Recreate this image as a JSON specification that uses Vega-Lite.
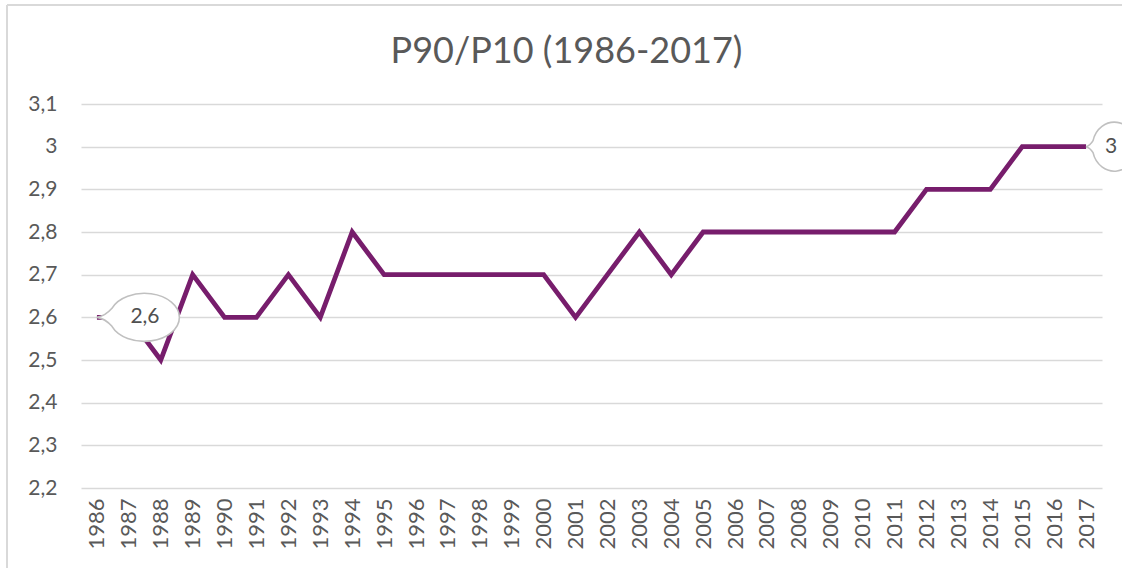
{
  "$schema": "https://vega.github.io/schema/vega-lite/v6.json",
  "autosize": {"type": "none"},
  "padding": {"left": 7, "top": 5, "right": 0, "bottom": 0},
  "width": 1115,
  "height": 563,
  "background": "white",
  "config": {
    "font": "Lato",
    "view": {"stroke": "#d9d9d9", "strokeWidth": 2, "strokeDash": [1115, 1678, 563, 0]},
    "title": {"font": "Lato", "fontSize": 36, "fontWeight": "normal", "color": "#595959"}
  },
  "title": {"text": "P90/P10 (1986-2017)", "anchor": "middle", "dx": 2, "offset": -94, "baseline": "alphabetic"},
  "data": {
    "values": [
      {"year": "1986", "value": 2.6, "label": "2,6"},
      {"year": "1987", "value": 2.6, "label": null},
      {"year": "1988", "value": 2.5, "label": null},
      {"year": "1989", "value": 2.7, "label": null},
      {"year": "1990", "value": 2.6, "label": null},
      {"year": "1991", "value": 2.6, "label": null},
      {"year": "1992", "value": 2.7, "label": null},
      {"year": "1993", "value": 2.6, "label": null},
      {"year": "1994", "value": 2.8, "label": null},
      {"year": "1995", "value": 2.7, "label": null},
      {"year": "1996", "value": 2.7, "label": null},
      {"year": "1997", "value": 2.7, "label": null},
      {"year": "1998", "value": 2.7, "label": null},
      {"year": "1999", "value": 2.7, "label": null},
      {"year": "2000", "value": 2.7, "label": null},
      {"year": "2001", "value": 2.6, "label": null},
      {"year": "2002", "value": 2.7, "label": null},
      {"year": "2003", "value": 2.8, "label": null},
      {"year": "2004", "value": 2.7, "label": null},
      {"year": "2005", "value": 2.8, "label": null},
      {"year": "2006", "value": 2.8, "label": null},
      {"year": "2007", "value": 2.8, "label": null},
      {"year": "2008", "value": 2.8, "label": null},
      {"year": "2009", "value": 2.8, "label": null},
      {"year": "2010", "value": 2.8, "label": null},
      {"year": "2011", "value": 2.8, "label": null},
      {"year": "2012", "value": 2.9, "label": null},
      {"year": "2013", "value": 2.9, "label": null},
      {"year": "2014", "value": 2.9, "label": null},
      {"year": "2015", "value": 3.0, "label": null},
      {"year": "2016", "value": 3.0, "label": null},
      {"year": "2017", "value": 3.0, "label": "3"}
    ]
  },
  "encoding": {
    "x": {
      "field": "year", "type": "nominal", "sort": null,
      "scale": {"type": "point", "padding": 0.5, "range": [74, 1095]},
      "axis": {
        "title": null, "labelAngle": -90, "labelFontSize": 22, "labelColor": "#595959",
        "labelFont": "Lato", "ticks": false, "domain": false, "labelPadding": 10, "offset": -80
      }
    },
    "y": {
      "field": "value", "type": "quantitative",
      "scale": {"domain": [2.2, 3.1], "nice": false, "zero": false, "range": [483, 99]},
      "axis": {
        "title": null, "values": [2.2, 2.3, 2.4, 2.5, 2.6, 2.7, 2.8, 2.9, 3.0, 3.1],
        "labelExpr": "replace(format(datum.value, '.2~f'), '.', ',')",
        "labelFontSize": 21, "labelColor": "#595959", "labelFont": "Lato",
        "ticks": false, "domain": false, "labelPadding": 24, "offset": -74,
        "gridColor": "#d9d9d9", "gridWidth": 1.3
      }
    }
  },
  "layer": [
    {
      "mark": {"type": "line", "color": "#771d6c", "strokeWidth": 4.8, "strokeJoin": "miter", "strokeCap": "butt"}
    },
    {
      "transform": [{"filter": "datum.year == '1986'"}],
      "mark": {
        "type": "point", "filled": true, "fill": "white", "fillOpacity": 1,
        "stroke": "#c0c0c0", "strokeWidth": 1.6, "size": 400,
        "shape": "M0,0 Q0.8,-0.1 1.5,-0.9 A3.5,2.4 0 1,1 1.5,0.9 Q0.8,0.1 0,0 Z"
      }
    },
    {
      "transform": [{"filter": "datum.year == '2017'"}],
      "mark": {
        "type": "point", "filled": true, "fill": "white", "fillOpacity": 1,
        "stroke": "#c0c0c0", "strokeWidth": 1.6, "size": 400,
        "shape": "M0,0 Q0.4,-0.1 0.7,-0.6 A2.2,2.45 0 1,1 0.7,0.6 Q0.4,0.1 0,0 Z"
      }
    },
    {
      "transform": [{"filter": "datum.year == '1986'"}],
      "mark": {"type": "text", "dx": 48, "fontSize": 21, "color": "#505050", "font": "Lato"},
      "encoding": {"text": {"field": "label"}}
    },
    {
      "transform": [{"filter": "datum.year == '2017'"}],
      "mark": {"type": "text", "dx": 25, "fontSize": 21, "color": "#505050", "font": "Lato"},
      "encoding": {"text": {"field": "label"}}
    }
  ]
}
